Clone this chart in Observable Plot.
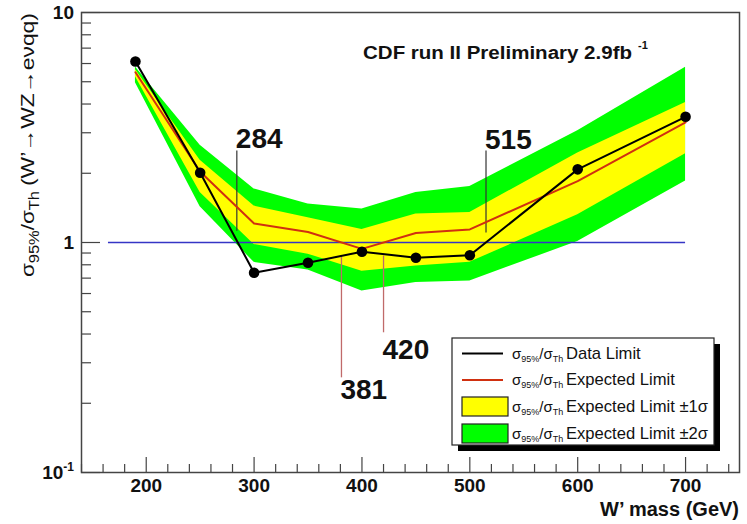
<!DOCTYPE html>
<html><head><meta charset="utf-8">
<script src="https://cdn.jsdelivr.net/npm/d3@7"></script>
<script src="https://cdn.jsdelivr.net/npm/@observablehq/plot@0.6"></script>
<style>
html,body{margin:0;padding:0;background:#fff;}
#chart svg{display:block;}
</style></head><body><div id="chart"></div>
<script>
// ---- data ----
const mass       = [190, 250, 300, 350, 400, 450, 500, 600, 700];
const dataLimit  = [6.12, 2.01, 0.739, 0.817, 0.912, 0.859, 0.88, 2.08, 3.52];
const expLimit   = [5.5, 2.03, 1.21, 1.11, 0.938, 1.10, 1.14, 1.85, 3.33];
const oneSigmaLo = [5.25, 1.65, 0.98, 0.89, 0.75, 0.79, 0.82, 1.32, 2.43];
const oneSigmaHi = [5.65, 2.28, 1.44, 1.28, 1.14, 1.33, 1.35, 2.45, 4.06];
const twoSigmaLo = [4.95, 1.43, 0.82, 0.76, 0.615, 0.67, 0.68, 1.01, 1.85];
const twoSigmaHi = [5.8, 2.65, 1.71, 1.47, 1.40, 1.65, 1.75, 3.06, 5.78];
const unityRange = [165, 700];
const annMass    = [284, 381, 420, 515];
const annTop     = [2.5, 0.86, 0.873, 2.5];
const annBottom  = [1.12, 0.258, 0.405, 1.10];
const annLabelY  = [2.58, 0.254, 0.38, 2.55];
const annAbove   = [true, false, false, true];
const xDomain    = [140, 750];
const yDomain    = [0.1, 10];
const xTicks     = [200, 300, 400, 500, 600, 700];
const xMinorTicks = d3.range(140, 751, 20).filter(v => v % 100 !== 0);
const yMajorTicks = [0.1, 1, 10];
const yMinorTicks = [0.2,0.3,0.4,0.5,0.6,0.7,0.8,0.9,2,3,4,5,6,7,8,9];
const titleText  = "CDF run II Preliminary 2.9fb";
const legendLabels = ["Data Limit", "Expected Limit", "Expected Limit \u00b11\u03c3", "Expected Limit \u00b12\u03c3"];

// ---- layout ----
const W = 747, H = 524, mL = 81, mR = 8, mT = 12, mB = 52;
const plotW = W - mL - mR, plotH = H - mT - mB;
const FONT = "'Liberation Sans', Arial, Helvetica, sans-serif";

const rows = mass.map((m, i) => ({mass: m, data: dataLimit[i], exp: expLimit[i],
  lo1: oneSigmaLo[i], hi1: oneSigmaHi[i], lo2: twoSigmaLo[i], hi2: twoSigmaHi[i]}));
const ann = annMass.map((m, i) => ({mass: m, top: annTop[i], bottom: annBottom[i], ly: annLabelY[i], label: String(m), above: annAbove[i]}));

const chart = Plot.plot({
  width: W, height: H,
  marginLeft: mL, marginRight: mR, marginTop: mT, marginBottom: mB,
  style: {fontFamily: FONT, background: "#fff"},
  x: {domain: xDomain},
  y: {type: "log", domain: yDomain, axis: null},
  marks: [
    Plot.areaY(rows, {x: "mass", y1: "lo2", y2: "hi2", fill: "#00ff00"}),
    Plot.areaY(rows, {x: "mass", y1: "lo1", y2: "hi1", fill: "#ffff00"}),
    Plot.ruleY([1], {x1: unityRange[0], x2: unityRange[1], stroke: "#3535c5", strokeWidth: 1.5}),
    Plot.ruleX(ann.filter(a => a.above), {x: "mass", y1: "bottom", y2: "top", stroke: "#333", strokeWidth: 1.2}),
    Plot.ruleX(ann.filter(a => !a.above), {x: "mass", y1: "bottom", y2: "top", stroke: "#c06a6a", strokeWidth: 1.3}),
    Plot.line(rows, {x: "mass", y: "exp", stroke: "#d03010", strokeWidth: 2}),
    Plot.line(rows, {x: "mass", y: "data", stroke: "#000", strokeWidth: 2}),
    Plot.dot(rows, {x: "mass", y: "data", r: 5.3, fill: "#000"}),
    Plot.text(ann.filter(a => a.above), {x: "mass", y: "ly", text: "label", textAnchor: "start", lineAnchor: "bottom", dx: -1, fontSize: 28, fontWeight: "bold", fill: "#111"}),
    Plot.text(ann.filter(a => !a.above), {x: "mass", y: "ly", text: "label", textAnchor: "start", lineAnchor: "top", dx: -1, fontSize: 28, fontWeight: "bold", fill: "#111"}),
    // axis ticks drawn inside the frame
    Plot.ruleX(xMinorTicks, {x: d => d, insetTop: plotH - 8, stroke: "#444", strokeWidth: 1.2}),
    Plot.ruleX(xTicks, {x: d => d, insetTop: plotH - 15, stroke: "#444", strokeWidth: 1.2}),
    Plot.ruleY(yMinorTicks, {y: d => d, insetRight: plotW - 10, stroke: "#444", strokeWidth: 1.2}),
    Plot.ruleY(yMajorTicks, {y: d => d, insetRight: plotW - 19, stroke: "#444", strokeWidth: 1.2}),
    Plot.frame({stroke: "#444", strokeWidth: 1.5}),
    Plot.axisX({ticks: xTicks, tickSize: 0, tickPadding: 6, fontSize: 19, fontWeight: "bold", label: null, tickFormat: d => String(d), fill: "#111"})
  ]
});
document.getElementById("chart").appendChild(chart);

const svg = d3.select(chart);
const ys = chart.scale("y");

function txt(parent, x, y, size, anchor) {
  return parent.append("text").attr("x", x).attr("y", y).attr("text-anchor", anchor || "start")
    .attr("font-family", FONT).attr("font-size", size).attr("fill", "#111");
}
function sigmaPrefix(t, sub, shift) {
  t.append("tspan").text("\u03c3");
  t.append("tspan").attr("font-size", sub).attr("dy", shift).text("95%");
  t.append("tspan").attr("dy", -shift).text("/\u03c3");
  t.append("tspan").attr("font-size", sub).attr("dy", shift).text("Th");
}

// y tick labels
[10, 1].forEach(v => {
  txt(svg, 74, ys.apply(v), 19, "end").attr("dy", "0.36em").attr("font-weight", "bold").text(String(v));
});
{
  const t = txt(svg, 74, ys.apply(0.1), 19, "end").attr("dy", "0.36em").attr("font-weight", "bold");
  t.append("tspan").text("10");
  t.append("tspan").attr("font-size", 12).attr("dy", -8).text("-1");
}

// y axis title
{
  const p = svg.append("text").attr("transform", "translate(34,277) rotate(-90)")
    .attr("text-anchor", "start").attr("font-family", FONT).attr("font-size", 19).attr("fill", "#111")
    .attr("textLength", 86).attr("lengthAdjust", "spacingAndGlyphs");
  sigmaPrefix(p, 14, 5);
  svg.append("text").attr("transform", "translate(34,186) rotate(-90)")
    .attr("text-anchor", "start").attr("font-family", FONT).attr("font-size", 19).attr("fill", "#111")
    .attr("textLength", 173).attr("lengthAdjust", "spacingAndGlyphs")
    .text("(W\u2019\u2192WZ\u2192e\u03bdqq)");
}

// x axis title
txt(svg, 739, 516, 20, "end").attr("font-weight", "bold").text("W\u2019 mass (GeV)");

// title
txt(svg, 363, 59, 17.5).attr("font-weight", "bold")
  .attr("textLength", 269).attr("lengthAdjust", "spacingAndGlyphs").text(titleText);
txt(svg, 638, 49, 11).attr("font-weight", "bold").text("-1");

// legend
{
  const g = svg.append("g");
  const bx = 452, by = 338, bw = 262, bh = 107;
  g.append("rect").attr("x", bx + 6).attr("y", by + 6).attr("width", bw).attr("height", bh).attr("fill", "#000");
  g.append("rect").attr("x", bx).attr("y", by).attr("width", bw).attr("height", bh).attr("fill", "#fff").attr("stroke", "#222").attr("stroke-width", 1.2);
  const rowY = [353.5, 380, 406.5, 433.5];
  g.append("line").attr("x1", 462).attr("x2", 503).attr("y1", rowY[0]).attr("y2", rowY[0]).attr("stroke", "#000").attr("stroke-width", 2);
  g.append("line").attr("x1", 462).attr("x2", 503).attr("y1", rowY[1]).attr("y2", rowY[1]).attr("stroke", "#d03010").attr("stroke-width", 2);
  g.append("rect").attr("x", 462).attr("y", rowY[2] - 9.5).attr("width", 46).attr("height", 19).attr("fill", "#ffff00").attr("stroke", "#222").attr("stroke-width", 1.2);
  g.append("rect").attr("x", 462).attr("y", rowY[3] - 9.5).attr("width", 46).attr("height", 19).attr("fill", "#00ff00").attr("stroke", "#222").attr("stroke-width", 1.2);
  legendLabels.forEach((lab, i) => {
    const p = txt(g, 512, rowY[i] + 5, 15);
    sigmaPrefix(p, 9, 3);
    txt(g, 566, rowY[i] + 5, 16.6).text(lab);
  });
}
</script>
</body></html>
